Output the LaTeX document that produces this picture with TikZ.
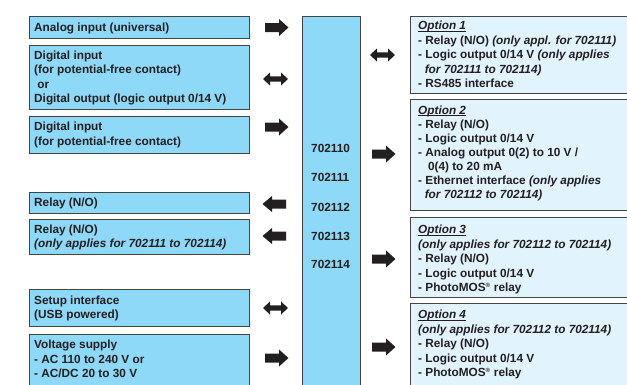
\documentclass[tikz,border=0pt]{standalone}
\usepackage{fontspec}
\setmainfont{Liberation Sans}
\definecolor{lblue}{HTML}{8ED8F8}
\definecolor{pblue}{HTML}{E1F3FC}
\definecolor{bord}{HTML}{444444}
\definecolor{ink}{HTML}{231F20}
\newsavebox{\optbox}
\newcommand{\opt}[1]{\sbox{\optbox}{\itshape #1}\rlap{\rule[-1.9pt]{\wd\optbox}{0.8pt}}\usebox{\optbox}}
\newcommand{\reg}{\textsuperscript{\fontsize{6}{6}\selectfont ®}}
\begin{document}
\begin{tikzpicture}[x=1pt,y=-1pt,
  box/.style={draw=bord, line width=1.2pt, anchor=north west, inner sep=0pt, minimum width=#1},
  lbox/.style={box=220pt, fill=lblue},
  rbox/.style={box=216.5pt, fill=pblue},
  txt/.style={anchor=north west, inner sep=0pt, align=left, text=ink,
    font=\fontsize{11.8}{14.5}\selectfont\bfseries, execute at begin node=\strut},
  num/.style={anchor=base west, inner sep=0pt, text=ink, font=\fontsize{11.8}{14.5}\selectfont\bfseries},
  rarr/.pic={\fill[ink] (0,-4.5) -- (14,-4.5) -- (14,-8.5) -- (23.5,0) -- (14,8.5) -- (14,4.5) -- (0,4.5) -- cycle;},
  larr/.pic={\fill[ink] (23.5,-4.5) -- (9.5,-4.5) -- (9.5,-8) -- (0,0) -- (9.5,8) -- (9.5,4.5) -- (23.5,4.5) -- cycle;},
  darr/.pic={\fill[ink] (0,0) -- (7,-6.5) -- (7,-2.7) -- (18,-2.7) -- (18,-6.5) -- (25,0) -- (18,6.5) -- (18,2.7) -- (7,2.7) -- (7,6.5) -- cycle;}
]
\useasboundingbox (0,0) rectangle (627,384);
\clip (0,0) rectangle (627,384);

% left column boxes
\node[lbox, minimum height=22pt] (l1) at (29,16) {};
\node[lbox, minimum height=64pt] (l2) at (29,45) {};
\node[lbox, minimum height=37pt] (l3) at (29,116) {};
\node[lbox, minimum height=21pt] (l4) at (29,192) {};
\node[lbox, minimum height=35pt] (l5) at (29,219) {};
\node[lbox, minimum height=37pt] (l6) at (29,289) {};
\node[lbox, minimum height=60pt] (l7) at (29,334) {};

\node[txt] (t1) at (34,21.0) {Analog input (universal)};
\node[txt] (t2) at (34,50.3) {Digital input\\(for potential-free contact)\\\ or\\Digital output (logic output 0/14 V)};
\node[txt, font=\fontsize{11.8}{15}\selectfont\bfseries] (t3) at (34,121.3) {Digital input\\(for potential-free contact)};
\node[txt] (t4) at (34,196.3) {Relay (N/O)};
\node[txt] (t5) at (34,224.3) {Relay (N/O)\\{\itshape (only applies for 702111 to 702114)}};
\node[txt] (t6) at (34,295.3) {Setup interface\\(USB powered)};
\node[txt] (t7) at (34,339.8) {Voltage supply\\- AC 110 to 240 V or\\- AC/DC 20 to 30 V};

% centre device
\node[box=58pt, fill=lblue, minimum height=380pt] (dev) at (302,16) {};
\node[num] (n0) at (311,152.5) {702110};
\node[num] (n1) at (311,181.5) {702111};
\node[num] (n2) at (311,211.0) {702112};
\node[num] (n3) at (311,240.0) {702113};
\node[num] (n4) at (311,268.5) {702114};

% right column boxes
\node[rbox, minimum height=77pt] (r1) at (410,16) {};
\node[rbox, minimum height=111pt] (r2) at (410,99) {};
\node[rbox, minimum height=80pt] (r3) at (410,217) {};
\node[rbox, minimum height=90pt] (r4) at (410,303) {};

\node[txt] (o1) at (418,20.8) {\opt{Option 1}\\- Relay (N/O) {\itshape (only appl. for 702111)}\\- Logic output 0/14 V {\itshape (only applies}\\\ \ {\itshape for 702111 to 702114)}\\- RS485 interface};
\node[txt, font=\fontsize{11.8}{14.15}\selectfont\bfseries] (o2) at (418,105.3) {\opt{Option 2}\\- Relay (N/O)\\- Logic output 0/14 V\\- Analog output 0(2) to 10 V /\\\ \ \ 0(4) to 20 mA\\- Ethernet interface {\itshape (only applies}\\\ \ {\itshape for 702112 to 702114)}};
\node[txt] (o3) at (418,224.8) {\opt{Option 3}\\{\itshape (only applies for 702112 to 702114)}\\- Relay (N/O)\\- Logic output 0/14 V\\- PhotoMOS\reg{} relay};
\node[txt] (o4) at (418,309.8) {\opt{Option 4}\\{\itshape (only applies for 702112 to 702114)}\\- Relay (N/O)\\- Logic output 0/14 V\\- PhotoMOS\reg{} relay};

% arrows left column
\pic at (265,27.5) {rarr};
\pic at (263,79) {darr};
\pic at (265,127) {rarr};
\pic at (262.5,204) {larr};
\pic at (262.5,236) {larr};
\pic at (263,308) {darr};
\pic at (265,358) {rarr};

% arrows right column
\pic at (370,55) {darr};
\pic at (372,154) {rarr};
\pic at (372,259) {rarr};
\pic at (372,347) {rarr};
\end{tikzpicture}
\end{document}
